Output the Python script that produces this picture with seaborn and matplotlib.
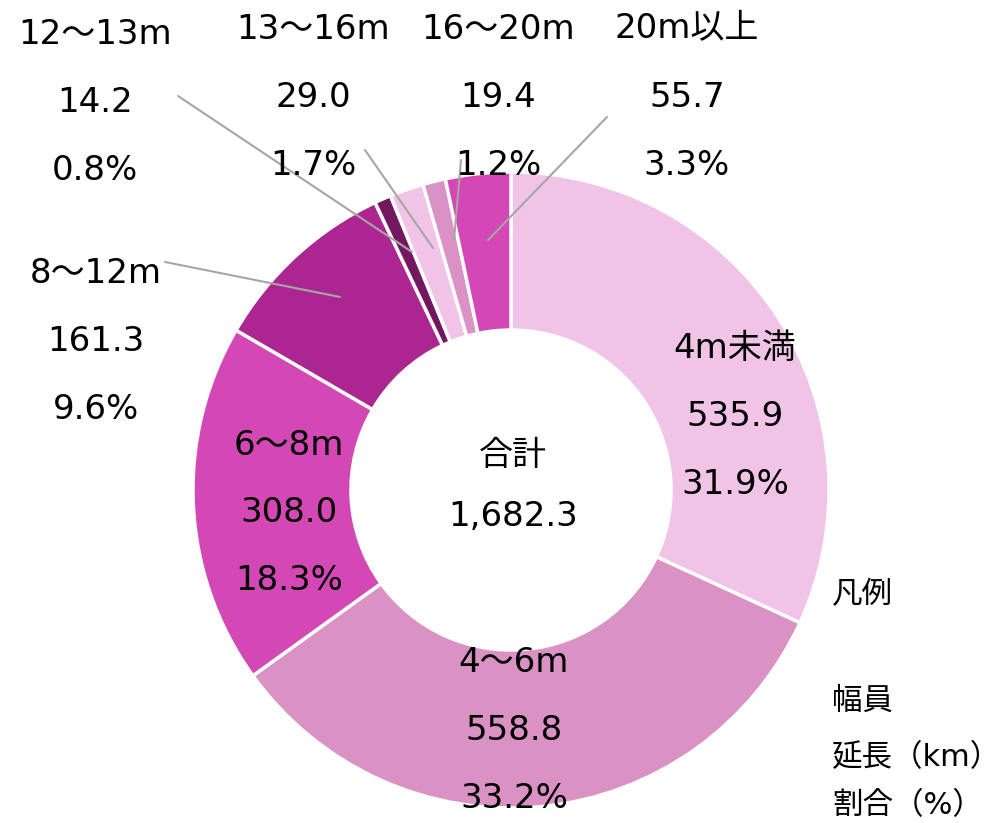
import numpy as np
import seaborn as sns
import matplotlib.pyplot as plt

# 幅員別 道路延長
labels = ['4m未満', '4～6m', '6～8m', '8～12m', '12～13m', '13～16m', '16～20m', '20m以上']
lengths = [535.9, 558.8, 308.0, 161.3, 14.2, 29.0, 19.4, 55.7]
colors = ['#F1C4E7', '#DA92C5', '#D448B5', '#AB2690', '#731860', '#F1C4E7', '#DA92C5', '#D448B5']
legend_lines = ['凡例', '幅員', '延長（km）', '割合（%）']

total = sum(lengths)
shares = [v / total * 100 for v in lengths]

sns.set_theme(style='white')
plt.rcParams['font.family'] = ['DejaVu Sans', 'Noto Sans CJK JP']
plt.rcParams['text.color'] = 'black'

W, H = 1007, 823
fig = plt.figure(figsize=(W / 100, H / 100), dpi=100)
ax = fig.add_axes([0, 0, 1, 1])


def py(y):
    # pixel row -> data y
    return H - y


cx, cy, r_out, r_in = 511, 490, 318, 160
ax.pie(lengths, colors=colors, startangle=90, counterclock=False,
       center=(cx, py(cy)), radius=r_out,
       wedgeprops=dict(width=r_out - r_in, edgecolor='white', linewidth=2.5))
ax.set_xlim(0, W)
ax.set_ylim(0, H)
ax.set_aspect('equal')
ax.axis('off')

fs = 24.5
gap = 68
half = 12.5  # half height of digits, px
# centre of the middle line of each label
label_pos = [(735, 413), (514, 728), (289, 510), (96, 338),
             (95, 99), (313, 94), (498, 94), (687, 94)]
for name, val, pct, (x, y) in zip(labels, lengths, shares, label_pos):
    for k, t in enumerate([name, f'{val:.1f}', f'{pct:.1f}%']):
        ax.text(x, py(y + (k - 1) * gap + half), t, ha='center', va='baseline',
                fontsize=fs, color='black')

# leader lines for the small slices
leaders = [((165, 262), (340, 297)), ((178, 96), (412, 252)),
           ((365, 150), (433, 248)), ((461, 160), (454, 240)),
           ((607, 117), (488, 240))]
for (x0, y0), (x1, y1) in leaders:
    ax.plot([x0, x1], [py(y0), py(y1)], color='#A6A6A6', lw=1.5)

ax.text(513, py(452 + half), '合計', ha='center', va='baseline', fontsize=fs, color='black')
ax.text(513, py(513 + half), f'{total:,.1f}', ha='center', va='baseline', fontsize=fs, color='black')

for t, y in zip(legend_lines, [592, 698, 755, 803]):
    ax.text(832, py(y + 11.5), t, ha='left', va='baseline', fontsize=22, color='black')

fig.savefig('out.png', dpi=100)
